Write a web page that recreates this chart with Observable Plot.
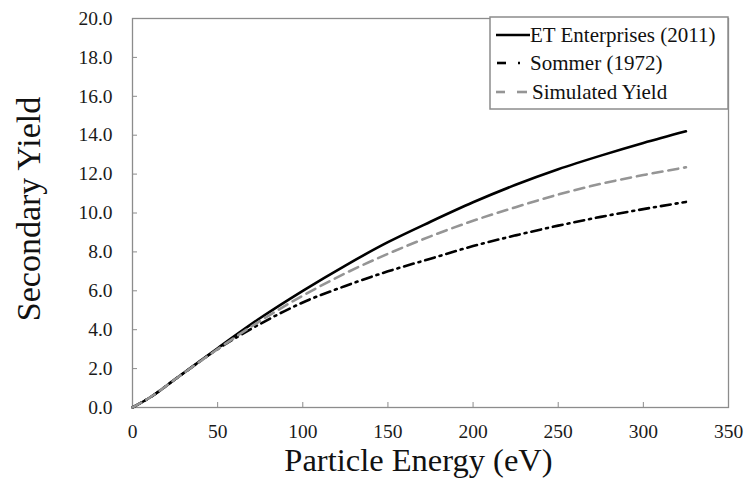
<!DOCTYPE html>
<html>
<head>
<meta charset="utf-8">
<script src="https://cdn.jsdelivr.net/npm/d3@7"></script>
<script src="https://cdn.jsdelivr.net/npm/@observablehq/plot@0.6"></script>
<style>
  html, body { margin: 0; padding: 0; background: #fff; }
  #chart { position: relative; width: 744px; height: 489px; }
  svg, svg text { font-family: "Liberation Serif", "Times New Roman", serif; }
</style>
</head>
<body>
<div id="chart"></div>
<script>
// Particle energy (eV) sampled along each curve
const energy = [0, 10, 25, 50, 75, 100, 125, 150, 175, 200, 225, 250, 275, 300, 325];
// Secondary yield per source
const etEnterprises = [0, 0.5, 1.45, 3.05, 4.6, 6.0, 7.3, 8.5, 9.55, 10.55, 11.45, 12.25, 12.95, 13.6, 14.2];
const sommer        = [0, 0.5, 1.45, 3.0, 4.3, 5.4, 6.25, 7.0, 7.65, 8.3, 8.85, 9.35, 9.8, 10.2, 10.57];
const simulated     = [0, 0.5, 1.45, 3.0, 4.45, 5.75, 6.9, 7.9, 8.8, 9.6, 10.3, 10.95, 11.5, 11.95, 12.35];

const seriesNames = ["ET Enterprises (2011)", "Sommer (1972)", "Simulated Yield"];
const xTicks = [0, 50, 100, 150, 200, 250, 300, 350];
const yTicks = [0, 2, 4, 6, 8, 10, 12, 14, 16, 18, 20];

const styles = [
  {stroke: "#000", dash: null},
  {stroke: "#000", dash: "10,5,2,5"},
  {stroke: "#959595", dash: "10,6"}
];
const seriesValues = [etEnterprises, sommer, simulated];
const series = seriesValues.map((vals, i) => energy.map((e, j) => ({name: seriesNames[i], x: e, y: vals[j]})));

const fmtY = d3.format(".1f");
const W = 744, H = 489;
const mL = 132, mR = 16, mT = 18, mB = 82;
const tickLen = 5;
const serif = "Liberation Serif, Times New Roman, serif";

const plot = Plot.plot({
  width: W,
  height: H,
  marginLeft: mL,
  marginRight: mR,
  marginTop: mT,
  marginBottom: mB,
  style: {fontFamily: serif, fontSize: "20px", background: "#fff", overflow: "visible"},
  x: {domain: [0, 350], label: null},
  y: {domain: [0, 20], label: null},
  marks: [
    // inward tick marks along the bottom and left edges
    Plot.tickX(xTicks, {x: d => d, stroke: "#8c8c8c", insetTop: (H - mT - mB) - tickLen}),
    Plot.tickY(yTicks, {y: d => d, stroke: "#8c8c8c", insetRight: (W - mL - mR) - tickLen}),
    // tick labels
    Plot.axisX(xTicks, {tickSize: 0, tickPadding: 17, fontSize: 19.5, fontFamily: serif, fill: "#1a1a1a", label: null}),
    Plot.axisY(yTicks, {tickSize: 0, tickPadding: 20, fontSize: 19.5, fontFamily: serif, fill: "#1a1a1a", tickFormat: fmtY, label: null}),
    Plot.frame({stroke: "#8c8c8c", strokeWidth: 1.3}),
    ...series.map((data, i) => Plot.line(data, {
      x: "x", y: "y",
      stroke: styles[i].stroke,
      strokeWidth: 2.6,
      strokeDasharray: styles[i].dash,
      curve: "monotone-x"
    })),
    Plot.text(["Particle Energy (eV)"], {frameAnchor: "bottom", dx: -12, dy: 63, fontSize: 32.5, fontFamily: serif, fill: "#111", text: d => d}),
    Plot.text(["Secondary Yield"], {frameAnchor: "left", textAnchor: "middle", dx: -103, dy: -4, rotate: -90, fontSize: 34, fontFamily: serif, fill: "#111", text: d => d})
  ]
});

document.getElementById("chart").appendChild(plot);

// Legend box in the upper-right corner of the frame
const svg = d3.select(plot);
const lg = svg.append("g").attr("transform", "translate(490,17)");
lg.append("rect").attr("width", 238).attr("height", 92)
  .attr("fill", "#fff").attr("stroke", "#8c8c8c").attr("stroke-width", 1.5);
const rowY = [18, 46, 75];
seriesNames.forEach((name, i) => {
  const g = lg.append("g").attr("transform", `translate(0,${rowY[i]})`);
  if (i === 1) {
    g.append("line").attr("x1", 7).attr("x2", 16).attr("stroke", "#000").attr("stroke-width", 2.6);
    g.append("line").attr("x1", 28).attr("x2", 30).attr("stroke", "#000").attr("stroke-width", 2.6);
  } else if (i === 2) {
    g.append("line").attr("x1", 6).attr("x2", 15).attr("stroke", styles[i].stroke).attr("stroke-width", 2.6);
    g.append("line").attr("x1", 27).attr("x2", 37).attr("stroke", styles[i].stroke).attr("stroke-width", 2.6);
  } else {
    g.append("line").attr("x1", 6).attr("x2", 40).attr("stroke", "#000").attr("stroke-width", 2.6);
  }
  g.append("text").attr("x", i === 2 ? 42 : 40).attr("dy", "0.35em")
    .attr("text-anchor", "start")
    .attr("font-family", serif)
    .attr("font-size", 21).attr("fill", "#111").text(name);
});
</script>
</body>
</html>
